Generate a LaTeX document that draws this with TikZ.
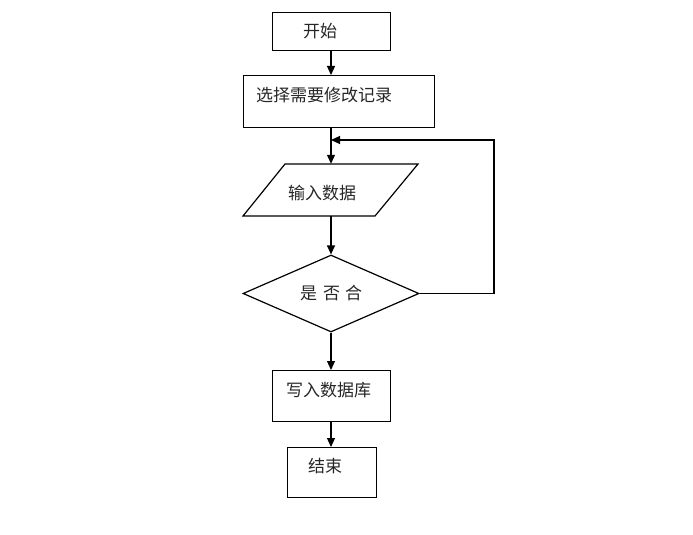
\documentclass[tikz,border=0pt]{standalone}
\usepackage{fontspec}
\newfontfamily\cjk{Noto Sans CJK SC}
\usetikzlibrary{arrows.meta,shapes.geometric}
\begin{document}
\begin{tikzpicture}[x=1pt,y=-1pt,
  box/.style={draw=black,line width=1.2pt,inner sep=0pt,anchor=north west},
  lbl/.style={inner sep=0pt,anchor=west,font=\cjk\fontsize{17}{20}\selectfont,text=black!85},
  conn/.style={line width=1.2pt,-{Triangle[length=9pt,width=8pt]}}]
\useasboundingbox (0,0) rectangle (693,535);
% boxes
\node[box,minimum width=118pt,minimum height=38pt] (start) at (272,12) {};
\node[box,minimum width=191pt,minimum height=52pt] (sel) at (243,75) {};
\draw[line width=1.2pt,line join=miter] (285,164) -- (418,164) -- (375,216) -- (243,216) -- cycle;
\node[inner sep=0pt,minimum width=133pt,minimum height=52pt] (io) at (330.5,190) {};
\node[diamond,draw=black,line width=1.2pt,inner sep=0pt,aspect=2.29,minimum width=176pt,minimum height=77pt] (dec) at (331,293.5) {};
\node[box,minimum width=118pt,minimum height=51pt] (write) at (272,370) {};
\node[box,minimum width=89pt,minimum height=50pt] (end) at (287,447) {};
% labels
\node[lbl] (tstart) at (303,31) {开始};
\node[lbl] (tsel) at (256,95) {选择需要修改记录};
\node[lbl] (tio) at (288,193) {输入数据};
\node[lbl] (tdec) at (300,293) {是\hspace{6pt}否\hspace{5pt}合};
\node[lbl] (twrite) at (286,390) {写入数据库};
\node[lbl] (tend) at (308,466) {结束};
% connectors
\coordinate (c1) at (494,293.5);
\coordinate (c2) at (494,140);
\coordinate (c3) at (331,140);
\draw[conn] (start.south -| 331,0) -- (sel.north -| 331,0);
\draw[line width=1.2pt] (sel.south -| 331,0) -- (c3);
\draw[conn] (c3) -- (io.north -| 331,0);
\draw[conn] (io.south -| 331,0) -- (dec.north);
\draw[conn] (dec.east) -- (c1) -- (c2) -- (c3);
\draw[conn] (dec.south) -- (write.north -| 331,0);
\draw[conn] (write.south -| 331,0) -- (end.north -| 331,0);
\end{tikzpicture}
\end{document}
